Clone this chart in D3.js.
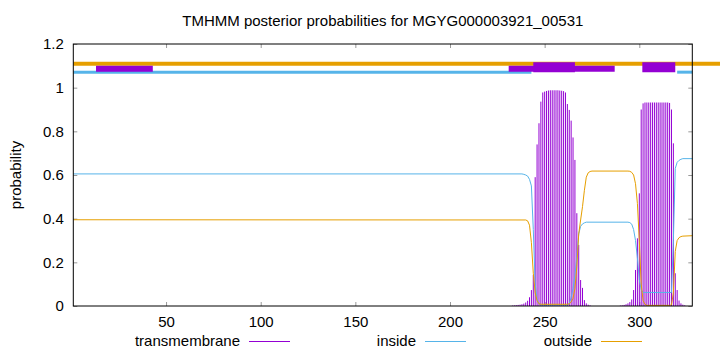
<!DOCTYPE html>
<html>
<head>
<meta charset="utf-8">
<script src="https://cdn.jsdelivr.net/npm/d3@7"></script>
<style>
body { margin: 0; background: #fff; }
svg { display: block; font-family: "Liberation Sans", Arial, sans-serif; }
</style>
</head>
<body>
<svg id="svg" width="720" height="352"></svg>
<script>
/*global d3*/

const titleText = "TMHMM posterior probabilities for MGYG000003921_00531";
const xTicks = [50, 100, 150, 200, 250, 300];
const yTicks = [0, 0.2, 0.4, 0.6, 0.8, 1, 1.2];
const seriesNames = ["transmembrane", "inside", "outside"];

// transmembrane posterior per residue (residues not listed are ~0)
const tmProb = [
  [233,0.002],[234,0.003],[235,0.004],[236,0.005],[237,0.006],[238,0.008],[239,0.011],[240,0.016],
  [241,0.024],[242,0.04],[243,0.073],[244,0.142],[245,0.59],[246,0.74],[247,0.837],[248,0.936],
  [249,0.978],[250,0.982],[251,0.985],[252,0.987],[253,0.988],[254,0.988],[255,0.988],[256,0.988],
  [257,0.988],[258,0.987],[259,0.986],[260,0.984],[261,0.978],[262,0.925],[263,0.898],[264,0.849],
  [265,0.772],[266,0.669],[267,0.425],[268,0.28],[269,0.119],[270,0.083],[271,0.027],[272,0.012],
  [273,0.006],[274,0.003],
  [290,0.002],[291,0.003],[292,0.005],[293,0.008],[294,0.012],[295,0.018],[296,0.03],[297,0.073],
  [298,0.165],[299,0.31],[300,0.516],[301,0.9],[302,0.928],[303,0.932],[304,0.932],[305,0.932],
  [306,0.932],[307,0.932],[308,0.932],[309,0.932],[310,0.932],[311,0.932],[312,0.932],[313,0.932],
  [314,0.932],[315,0.932],[316,0.93],[317,0.9],[318,0.745],[319,0.15],[320,0.073],[321,0.025],
  [322,0.012],[323,0.006],[324,0.003]
];

const insideProb = [
  [1,0.605],[238,0.605],[239,0.603],[240,0.6],[241,0.595],[242,0.58],[243,0.55],[244,0.35],
  [245,0.1],[246,0.03],[247,0.01],[248,0.004],[262,0.004],[263,0.01],[264,0.04],[265,0.08],
  [266,0.14],[267,0.226],[268,0.33],[269,0.365],[270,0.376],[271,0.381],[272,0.384],[294,0.384],
  [295,0.382],[296,0.375],[297,0.35],[298,0.3],[299,0.22],[300,0.12],[301,0.075],[302,0.062],
  [317,0.062],[318,0.3],[319,0.63],[320,0.658],[321,0.667],[322,0.672],[323,0.675],[328,0.675]
];

const outsideProb = [
  [1,0.395],[240,0.394],[241,0.39],[242,0.37],[243,0.29],[244,0.15],[245,0.06],[246,0.025],
  [247,0.01],[248,0.008],[262,0.008],[263,0.01],[264,0.018],[265,0.035],[266,0.08],[267,0.18],
  [268,0.33],[269,0.394],[270,0.455],[271,0.53],[272,0.59],[273,0.61],[274,0.616],[275,0.618],
  [294,0.618],[295,0.617],[296,0.612],[297,0.6],[298,0.56],[299,0.47],[300,0.3],[301,0.1],
  [302,0.025],[303,0.008],[304,0.003],[316,0.003],[317,0.005],[318,0.06],[319,0.25],[320,0.3],
  [321,0.313],[322,0.318],[323,0.32],[328,0.322]
];

// predicted topology across the top: [from, to, level]
const outsideBars = [[1, 345, 1.11]];
const insideBars = [[1, 243, 1.071], [320, 328, 1.071]];
const tmThinBars = [[13, 43, 1.087], [231, 287, 1.087]];
const tmBars = [[244, 266, 1.093], [301.6, 319, 1.093]];

const width = 720;
const height = 352;
const margin = {top: 44, left: 73.3, right: 27.7, bottom: 46};
const colors = {tm: "#9400d3", inside: "#56b4e9", outside: "#e69f00"};

const svg = d3.select("#svg");

const xScale = d3.scaleLinear()
  .domain([1, 328])
  .range([margin.left, width - margin.right]);

const yScale = d3.scaleLinear()
  .domain([0, 1.2])
  .range([height - margin.bottom, margin.top]);

// title
svg.append("text")
  .attr("x", (margin.left + width - margin.right) / 2)
  .attr("y", 26)
  .attr("text-anchor", "middle")
  .attr("font-size", 15)
  .text(titleText);

// y label
svg.append("text")
  .attr("transform", `translate(21,${(margin.top + height - margin.bottom) / 2}) rotate(-90)`)
  .attr("text-anchor", "middle")
  .attr("font-size", 15)
  .text("probability");

// axes
const xAxisG = svg.append("g")
  .attr("transform", `translate(0,${height - margin.bottom})`)
  .call(d3.axisBottom(xScale).tickValues(xTicks).tickSize(-4).tickPadding(10));
const xTopG = svg.append("g")
  .attr("transform", `translate(0,${margin.top})`)
  .call(d3.axisTop(xScale).tickValues(xTicks).tickSize(-4).tickFormat(""));
const yAxisG = svg.append("g")
  .attr("transform", `translate(${margin.left},0)`)
  .call(d3.axisLeft(yScale).tickValues(yTicks).tickSize(-4).tickPadding(9.5).tickFormat(d3.format("~g")));
const yRightG = svg.append("g")
  .attr("transform", `translate(${width - margin.right},0)`)
  .call(d3.axisRight(yScale).tickValues(yTicks).tickSize(-4).tickFormat(""));

[xAxisG, xTopG, yAxisG, yRightG].forEach(a => {
  a.attr("font-family", null).attr("font-size", 15);
  a.select(".domain").remove();
  a.selectAll(".tick line").attr("stroke", "#999");
  a.selectAll("text").attr("fill", "#000");
});

// transmembrane impulses
svg.append("g")
  .selectAll("line").data(tmProb)
  .enter().append("line")
  .attr("x1", d => xScale(d[0]))
  .attr("x2", d => xScale(d[0]))
  .attr("y1", yScale(0))
  .attr("y2", d => yScale(d[1]))
  .attr("stroke", colors.tm)
  .attr("stroke-width", 1);

const line = d3.line()
  .x(d => xScale(d[0]))
  .y(d => yScale(d[1]));

svg.append("path")
  .datum(insideProb)
  .attr("d", line)
  .attr("fill", "none")
  .attr("stroke", colors.inside)
  .attr("stroke-width", 1);

svg.append("path")
  .datum(outsideProb)
  .attr("d", line)
  .attr("fill", "none")
  .attr("stroke", colors.outside)
  .attr("stroke-width", 1);

// topology bars
const drawBars = (bars, color, w) => {
  svg.append("g")
    .selectAll("line").data(bars)
    .enter().append("line")
    .attr("x1", d => xScale(d[0]))
    .attr("x2", d => xScale(d[1]))
    .attr("y1", d => yScale(d[2]))
    .attr("y2", d => yScale(d[2]))
    .attr("stroke", color)
    .attr("stroke-width", w);
};
drawBars(outsideBars, colors.outside, 4);
drawBars(insideBars, colors.inside, 3);
drawBars(tmThinBars, colors.tm, 6);
drawBars(tmBars, colors.tm, 10);

// border
svg.append("rect")
  .attr("x", margin.left)
  .attr("y", margin.top)
  .attr("width", width - margin.left - margin.right)
  .attr("height", height - margin.top - margin.bottom)
  .attr("fill", "none")
  .attr("stroke", "#000")
  .attr("stroke-width", 1);

// legend
const legendItems = [
  {name: seriesNames[0], color: colors.tm, end: 240},
  {name: seriesNames[1], color: colors.inside, end: 416},
  {name: seriesNames[2], color: colors.outside, end: 592}
];
const legend = svg.append("g").selectAll("g").data(legendItems).enter().append("g");
legend.append("text")
  .attr("x", d => d.end)
  .attr("y", 346)
  .attr("text-anchor", "end")
  .attr("font-size", 15)
  .text(d => d.name);
legend.append("line")
  .attr("x1", d => d.end + 9)
  .attr("x2", d => d.end + 50)
  .attr("y1", 341.5)
  .attr("y2", 341.5)
  .attr("stroke", d => d.color)
  .attr("stroke-width", 1);
</script>
</body>
</html>
